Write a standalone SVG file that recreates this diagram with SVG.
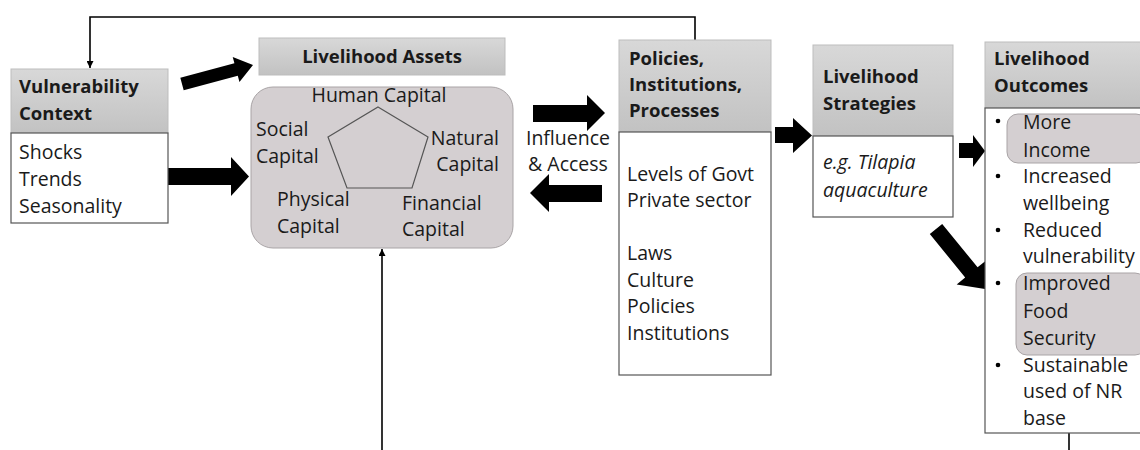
<svg xmlns="http://www.w3.org/2000/svg" width="1140" height="450" viewBox="0 0 1140 450">
<defs>
<linearGradient id="hdr" x1="0" y1="0" x2="0" y2="1">
<stop offset="0" stop-color="#d8d8d8"/>
<stop offset="1" stop-color="#c2c2c2"/>
</linearGradient>
<marker id="ah" viewBox="0 0 10 10" refX="10" refY="5" markerWidth="7" markerHeight="7" markerUnits="userSpaceOnUse" orient="auto">
<path d="M0,0 L10,5 L0,10 z" fill="#000"/>
</marker>
<style>
text{font-family:"Open Sans","Liberation Sans",sans-serif;font-size:19.5px;fill:#1a1a1a}
.b{font-weight:bold;font-size:18.5px}
.i{font-style:italic}
.hdr{fill:url(#hdr);stroke:#bdbdbd;stroke-width:1}
.body{fill:#fff;stroke:#555;stroke-width:1.2}
.hl{fill:#d4cfd1;stroke:#a9a4a6;stroke-width:1}
.arr{fill:#000}
.thin{fill:none;stroke:#000;stroke-width:1.6}
</style>
</defs>

<g id="connectors">
<polyline class="thin" points="695,40 695,17 90,17 90,68" marker-end="url(#ah)"/>
<line class="thin" x1="382" y1="450" x2="382" y2="249" marker-end="url(#ah)"/>
<line class="thin" x1="1069" y1="433" x2="1069" y2="450"/>
<polygon class="arr" transform="translate(182,84) rotate(-15)" points="0,-6.5 56,-6.5 56,-13 73.5,0 56,13 56,6.5 0,6.5"/>
<polygon class="arr" points="168,168 231,168 231,157 249,176.5 231,196 231,185 168,185"/>
<polygon class="arr" points="533,105 587,105 587,95 605,113 587,131 587,122 533,122"/>
<polygon class="arr" points="602,185 549,185 549,174 530,193 549,212 549,202 602,202"/>
<polygon class="arr" points="775,127 793,127 793,118 812,135.5 793,153 793,143 775,143"/>
<polygon class="arr" points="959,143 973,143 973,135 985,151 973,167 973,158 959,158"/>
<polygon class="arr" transform="translate(936,229) rotate(50.8)" points="0,-8 56,-8 56,-19 77.5,0 56,19 56,8 0,8"/>
</g>

<g id="vulnerability">
<rect class="hdr" x="11" y="69" width="157" height="64"/>
<rect class="body" x="11" y="133" width="157" height="90"/>
<text class="b" x="19" y="93">Vulnerability</text>
<text class="b" x="19" y="120">Context</text>
<text x="19" y="159">Shocks</text>
<text x="19" y="186">Trends</text>
<text x="19" y="213">Seasonality</text>
</g>

<g id="assets">
<rect class="hdr" x="259" y="38" width="246" height="37"/>
<text class="b" x="382" y="63" text-anchor="middle">Livelihood Assets</text>
<rect x="251" y="87" width="262" height="161" rx="22" fill="#d4cfd1" stroke="#a9a4a6" stroke-width="1"/>
<polygon points="378,107 428,137 412,188 347,188 328,137" fill="none" stroke="#555" stroke-width="1.2"/>
<text x="379" y="102" text-anchor="middle" fill="#333">Human Capital</text>
<text x="256" y="136">Social</text>
<text x="256" y="163">Capital</text>
<text x="499" y="145" text-anchor="end">Natural</text>
<text x="499" y="171" text-anchor="end">Capital</text>
<text x="277" y="206">Physical</text>
<text x="277" y="233">Capital</text>
<text x="402" y="210">Financial</text>
<text x="402" y="236">Capital</text>
</g>

<g id="influence">
<text x="568" y="145" text-anchor="middle">Influence</text>
<text x="568" y="171" text-anchor="middle">&amp; Access</text>
</g>

<g id="policies">
<rect class="hdr" x="619" y="40" width="152" height="92"/>
<rect class="body" x="619" y="132" width="152" height="243"/>
<text class="b" x="629" y="65">Policies,</text>
<text class="b" x="629" y="91">Institutions,</text>
<text class="b" x="629" y="117">Processes</text>
<text x="627" y="181">Levels of Govt</text>
<text x="627" y="207">Private sector</text>
<text x="627" y="260">Laws</text>
<text x="627" y="287">Culture</text>
<text x="627" y="313">Policies</text>
<text x="627" y="340">Institutions</text>
</g>

<g id="strategies">
<rect class="hdr" x="813" y="45" width="140" height="91"/>
<rect class="body" x="813" y="136" width="140" height="81"/>
<text class="b" x="823" y="83">Livelihood</text>
<text class="b" x="823" y="110">Strategies</text>
<text class="i" x="823" y="169">e.g. Tilapia</text>
<text class="i" x="823" y="197">aquaculture</text>
</g>

<g id="outcomes">
<rect class="hdr" x="985" y="42" width="160" height="66"/>
<rect class="body" x="985" y="108" width="160" height="325"/>
<text class="b" x="994" y="65">Livelihood</text>
<text class="b" x="994" y="92">Outcomes</text>
<rect class="hl" x="1007" y="114" width="140" height="49" rx="11"/>
<rect class="hl" x="1016" y="273" width="130" height="82" rx="11"/>
<g fill="#000">
<circle cx="998" cy="121" r="2.3"/>
<circle cx="998" cy="176" r="2.3"/>
<circle cx="998" cy="230" r="2.3"/>
<circle cx="998" cy="283" r="2.3"/>
<circle cx="998" cy="365" r="2.3"/>
</g>
<text x="1023" y="129" fill="#444">More</text>
<text x="1023" y="157" fill="#444">Income</text>
<text x="1023" y="183">Increased</text>
<text x="1023" y="210">wellbeing</text>
<text x="1023" y="237">Reduced</text>
<text x="1023" y="263">vulnerability</text>
<text x="1023" y="290" fill="#444">Improved</text>
<text x="1023" y="318" fill="#444">Food</text>
<text x="1023" y="345" fill="#444">Security</text>
<text x="1023" y="372">Sustainable</text>
<text x="1023" y="398">used of NR</text>
<text x="1023" y="425">base</text>
</g>
</svg>
